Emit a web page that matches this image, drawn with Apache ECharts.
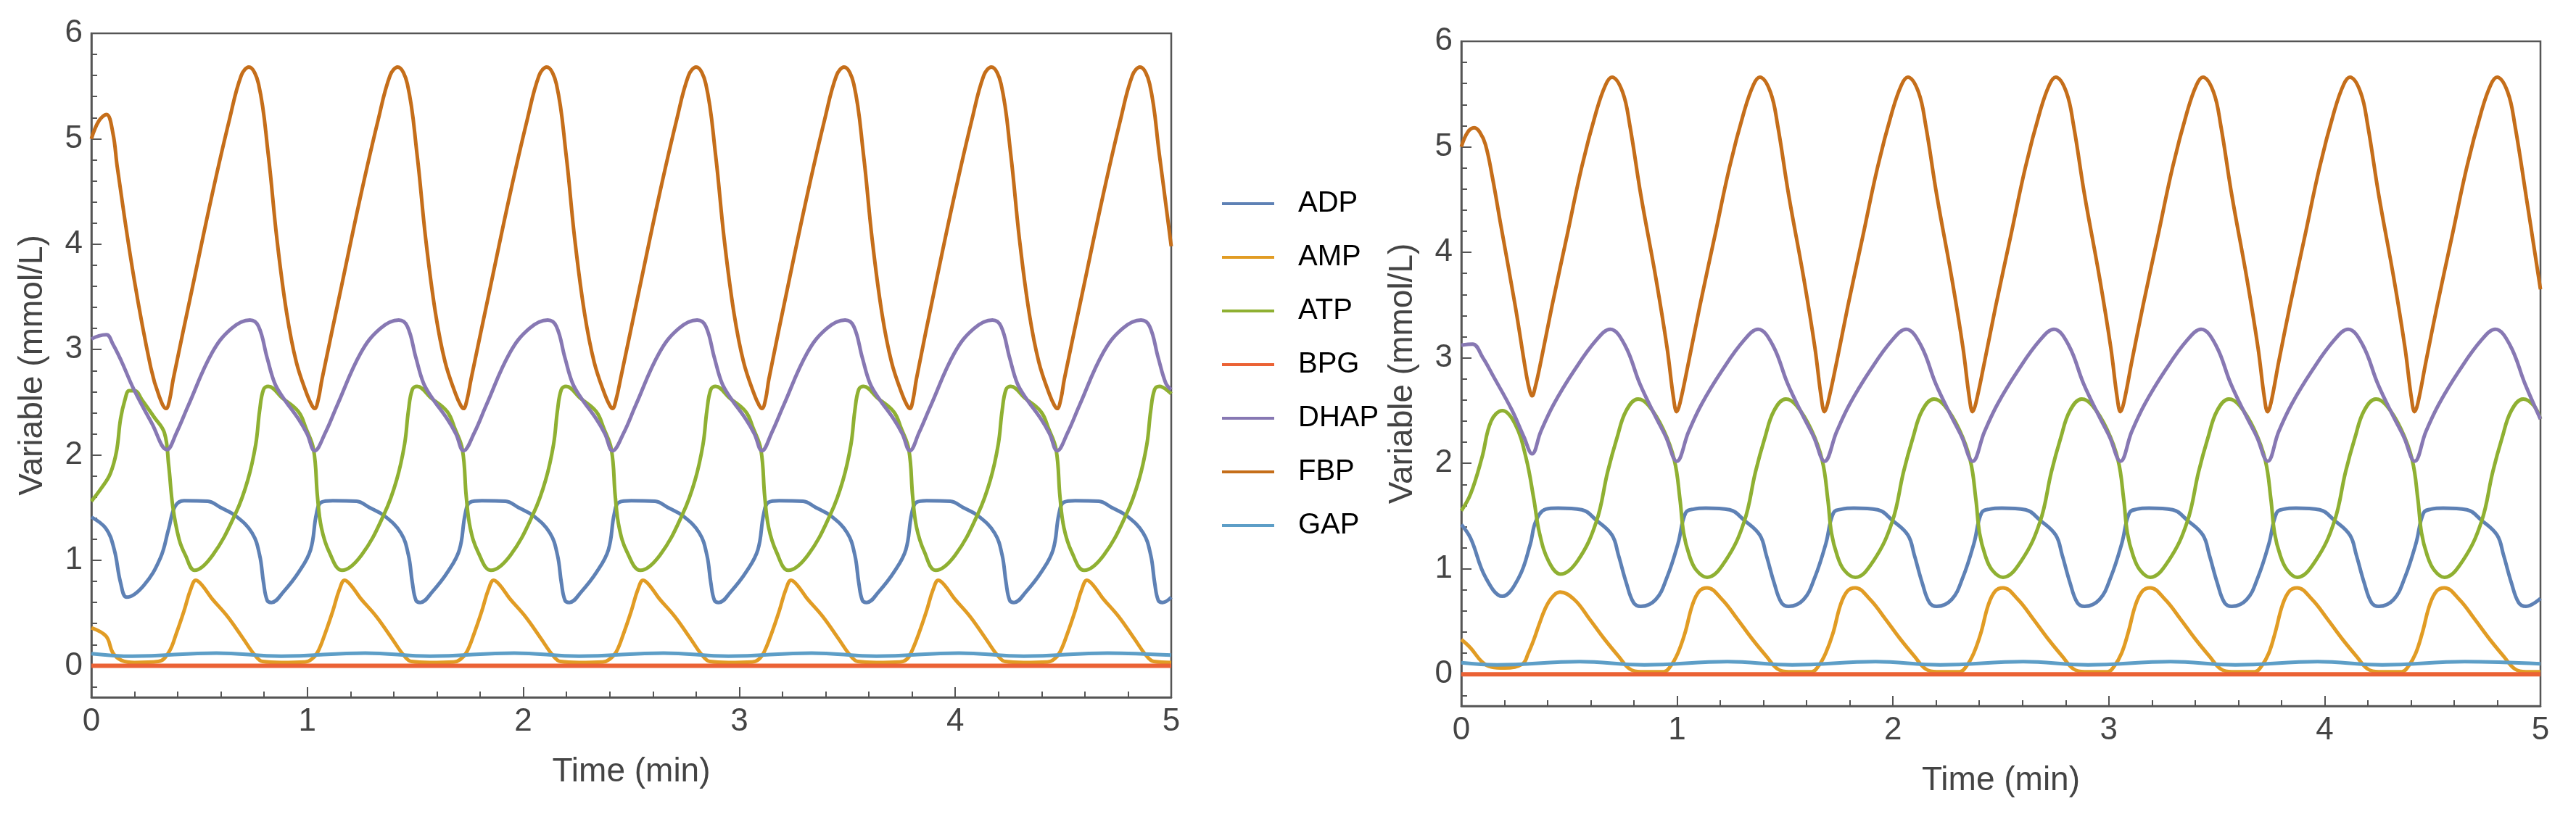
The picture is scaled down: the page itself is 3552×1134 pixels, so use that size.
<!DOCTYPE html>
<html>
<head>
<meta charset="utf-8">
<script src="https://cdn.jsdelivr.net/npm/echarts@6/dist/echarts.min.js"></script>
<style>
html,body{margin:0;padding:0;background:#fff;}
#chart{width:3552px;height:1134px;}
</style>
</head>
<body>
<div id="chart"></div>
<script>
// ---------- DATA ----------
const SERIES_NAMES = ['ADP','AMP','ATP','BPG','DHAP','FBP','GAP'];
const X_TICKS = [0,1,2,3,4,5];
const Y_TICKS = [0,1,2,3,4,5,6];
const Y_MINOR_TICKS = [-0.2,0.2,0.4,0.6,0.8,1.2,1.4,1.6,1.8,2.2,2.4,2.6,2.8,3.2,3.4,3.6,3.8,4.2,4.4,4.6,4.8,5.2,5.4,5.6,5.8];

// Left panel [time (min), value (mmol/L)]
const L_ADP = [[0,1.41],[0.068,1.3],[0.106,1.1],[0.135,0.79],[0.164,0.65],[0.242,0.76],[0.319,1.02],[0.358,1.3],[0.387,1.51],
[0.429,1.565],[0.539,1.56],[0.599,1.5],[0.669,1.42],[0.744,1.26],[0.779,1.05],[0.797,0.79],[0.814,0.62],[0.834,0.6],[0.889,0.7],[0.961,0.89],[1.015,1.1],[1.042,1.44],[1.064,1.55],
[1.118,1.565],[1.228,1.56],[1.288,1.5],[1.358,1.42],[1.433,1.26],[1.468,1.05],[1.486,0.79],[1.503,0.62],[1.523,0.6],[1.578,0.7],[1.650,0.89],[1.704,1.1],[1.731,1.44],[1.753,1.55],
[1.808,1.565],[1.918,1.56],[1.978,1.5],[2.048,1.42],[2.123,1.26],[2.158,1.05],[2.176,0.79],[2.193,0.62],[2.213,0.6],[2.268,0.7],[2.340,0.89],[2.394,1.1],[2.421,1.44],[2.443,1.55],
[2.500,1.565],[2.610,1.56],[2.670,1.5],[2.740,1.42],[2.815,1.26],[2.850,1.05],[2.868,0.79],[2.885,0.62],[2.905,0.6],[2.960,0.7],[3.032,0.89],[3.086,1.1],[3.113,1.44],[3.135,1.55],
[3.185,1.565],[3.295,1.56],[3.355,1.5],[3.425,1.42],[3.500,1.26],[3.535,1.05],[3.553,0.79],[3.570,0.62],[3.590,0.6],[3.645,0.7],[3.717,0.89],[3.771,1.1],[3.798,1.44],[3.820,1.55],
[3.867,1.565],[3.977,1.56],[4.037,1.5],[4.107,1.42],[4.182,1.26],[4.217,1.05],[4.235,0.79],[4.252,0.62],[4.272,0.6],[4.327,0.7],[4.399,0.89],[4.453,1.1],[4.480,1.44],[4.502,1.55],
[4.555,1.565],[4.665,1.56],[4.725,1.5],[4.795,1.42],[4.870,1.26],[4.905,1.05],[4.923,0.79],[4.940,0.62],[4.960,0.6],[5.0,0.65]];

const L_AMP = [[0,0.36],[0.068,0.28],[0.1,0.12],[0.14,0.05],[0.2,0.03],[0.31,0.04],
[0.359,0.13],[0.394,0.31],[0.429,0.52],[0.459,0.72],[0.484,0.81],[0.514,0.76],[0.557,0.64],[0.629,0.47],[0.702,0.26],[0.757,0.1],[0.793,0.04],[0.879,0.03],[0.989,0.035],[1.019,0.06],
[1.048,0.13],[1.083,0.31],[1.118,0.52],[1.148,0.72],[1.173,0.81],[1.203,0.76],[1.246,0.64],[1.318,0.47],[1.391,0.26],[1.446,0.1],[1.482,0.04],[1.568,0.03],[1.678,0.035],[1.708,0.06],
[1.738,0.13],[1.773,0.31],[1.808,0.52],[1.838,0.72],[1.863,0.81],[1.893,0.76],[1.936,0.64],[2.008,0.47],[2.081,0.26],[2.136,0.1],[2.172,0.04],[2.258,0.03],[2.368,0.035],[2.398,0.06],
[2.430,0.13],[2.465,0.31],[2.500,0.52],[2.530,0.72],[2.555,0.81],[2.585,0.76],[2.628,0.64],[2.700,0.47],[2.773,0.26],[2.828,0.1],[2.864,0.04],[2.950,0.03],[3.060,0.035],[3.090,0.06],
[3.115,0.13],[3.150,0.31],[3.185,0.52],[3.215,0.72],[3.240,0.81],[3.270,0.76],[3.313,0.64],[3.385,0.47],[3.458,0.26],[3.513,0.1],[3.549,0.04],[3.635,0.03],[3.745,0.035],[3.775,0.06],
[3.797,0.13],[3.832,0.31],[3.867,0.52],[3.897,0.72],[3.922,0.81],[3.952,0.76],[3.995,0.64],[4.067,0.47],[4.140,0.26],[4.195,0.1],[4.231,0.04],[4.317,0.03],[4.427,0.035],[4.457,0.06],
[4.485,0.13],[4.520,0.31],[4.555,0.52],[4.585,0.72],[4.610,0.81],[4.640,0.76],[4.683,0.64],[4.755,0.47],[4.828,0.26],[4.883,0.1],[4.919,0.04],[5.0,0.03]];

const L_ATP = [[0,1.56],[0.048,1.69],[0.087,1.82],[0.116,2.03],[0.135,2.34],[0.155,2.52],[0.175,2.61],[0.2,2.61],[0.235,2.52],[0.29,2.36],[0.338,2.21],[0.358,1.9],[0.377,1.51],[0.406,1.2],[0.435,1.05],
[0.478,0.905],[0.562,1.05],[0.669,1.45],[0.724,1.76],[0.761,2.1],[0.779,2.42],[0.797,2.62],[0.819,2.65],[0.884,2.54],[0.959,2.41],[0.994,2.25],[1.029,2.05],[1.047,1.6],[1.065,1.31],[1.101,1.08],
[1.160,0.905],[1.251,1.05],[1.358,1.45],[1.413,1.76],[1.450,2.1],[1.468,2.42],[1.486,2.62],[1.508,2.65],[1.573,2.54],[1.648,2.41],[1.683,2.25],[1.718,2.05],[1.736,1.6],[1.754,1.31],[1.790,1.08],
[1.850,0.905],[1.941,1.05],[2.048,1.45],[2.103,1.76],[2.140,2.1],[2.158,2.42],[2.176,2.62],[2.198,2.65],[2.263,2.54],[2.338,2.41],[2.373,2.25],[2.408,2.05],[2.426,1.6],[2.444,1.31],[2.480,1.08],
[2.542,0.905],[2.633,1.05],[2.740,1.45],[2.795,1.76],[2.832,2.1],[2.850,2.42],[2.868,2.62],[2.890,2.65],[2.955,2.54],[3.030,2.41],[3.065,2.25],[3.100,2.05],[3.118,1.6],[3.136,1.31],[3.172,1.08],
[3.227,0.905],[3.318,1.05],[3.425,1.45],[3.480,1.76],[3.517,2.1],[3.535,2.42],[3.553,2.62],[3.575,2.65],[3.640,2.54],[3.715,2.41],[3.750,2.25],[3.785,2.05],[3.803,1.6],[3.821,1.31],[3.857,1.08],
[3.909,0.905],[4.000,1.05],[4.107,1.45],[4.162,1.76],[4.199,2.1],[4.217,2.42],[4.235,2.62],[4.257,2.65],[4.322,2.54],[4.397,2.41],[4.432,2.25],[4.467,2.05],[4.485,1.6],[4.503,1.31],[4.539,1.08],
[4.597,0.905],[4.688,1.05],[4.795,1.45],[4.850,1.76],[4.887,2.1],[4.905,2.42],[4.923,2.62],[4.945,2.65],[5.0,2.58]];

const L_BPG = [[0,0],[1,0],[2,0],[3,0],[4,0],[5,0]];

const L_DHAP = [[0,3.1],[0.035,3.13],[0.07,3.14],[0.1,3.05],[0.139,2.89],[0.197,2.62],[0.28,2.3],[0.35,2.05],
[0.394,2.21],[0.449,2.47],[0.559,2.97],[0.649,3.2],[0.734,3.28],[0.774,3.22],[0.814,2.92],[0.849,2.68],[0.889,2.54],[0.959,2.34],[0.999,2.2],[1.034,2.04],
[1.083,2.21],[1.138,2.47],[1.248,2.97],[1.338,3.2],[1.423,3.28],[1.463,3.22],[1.503,2.92],[1.538,2.68],[1.578,2.54],[1.648,2.34],[1.688,2.2],[1.723,2.04],
[1.773,2.21],[1.828,2.47],[1.938,2.97],[2.028,3.2],[2.113,3.28],[2.153,3.22],[2.193,2.92],[2.228,2.68],[2.268,2.54],[2.338,2.34],[2.378,2.2],[2.413,2.04],
[2.465,2.21],[2.520,2.47],[2.630,2.97],[2.720,3.2],[2.805,3.28],[2.845,3.22],[2.885,2.92],[2.920,2.68],[2.960,2.54],[3.030,2.34],[3.070,2.2],[3.105,2.04],
[3.150,2.21],[3.205,2.47],[3.315,2.97],[3.405,3.2],[3.490,3.28],[3.530,3.22],[3.570,2.92],[3.605,2.68],[3.645,2.54],[3.715,2.34],[3.755,2.2],[3.790,2.04],
[3.832,2.21],[3.887,2.47],[3.997,2.97],[4.087,3.2],[4.172,3.28],[4.212,3.22],[4.252,2.92],[4.287,2.68],[4.327,2.54],[4.397,2.34],[4.437,2.2],[4.472,2.04],
[4.520,2.21],[4.575,2.47],[4.685,2.97],[4.775,3.2],[4.860,3.28],[4.900,3.22],[4.940,2.92],[4.975,2.68],[5.0,2.62]];

const L_FBP = [[0,5.0],[0.035,5.17],[0.07,5.23],[0.1,5.05],[0.12,4.73],[0.197,3.68],[0.275,2.83],[0.315,2.55],[0.346,2.44],[0.362,2.52],
[0.379,2.72],[0.469,3.6],[0.559,4.47],[0.639,5.18],[0.694,5.6],[0.729,5.68],[0.774,5.52],[0.819,4.85],[0.859,4.05],[0.904,3.35],[0.949,2.88],[0.999,2.57],[1.021,2.47],[1.034,2.44],[1.051,2.53],
[1.068,2.72],[1.158,3.6],[1.248,4.47],[1.328,5.18],[1.383,5.6],[1.418,5.68],[1.463,5.52],[1.508,4.85],[1.548,4.05],[1.593,3.35],[1.638,2.88],[1.688,2.57],[1.710,2.47],[1.723,2.44],[1.740,2.53],
[1.758,2.72],[1.848,3.6],[1.938,4.47],[2.018,5.18],[2.073,5.6],[2.108,5.68],[2.153,5.52],[2.198,4.85],[2.238,4.05],[2.283,3.35],[2.328,2.88],[2.378,2.57],[2.400,2.47],[2.413,2.44],[2.430,2.53],
[2.450,2.72],[2.540,3.6],[2.630,4.47],[2.710,5.18],[2.765,5.6],[2.800,5.68],[2.845,5.52],[2.890,4.85],[2.930,4.05],[2.975,3.35],[3.020,2.88],[3.070,2.57],[3.092,2.47],[3.105,2.44],[3.122,2.53],
[3.137,2.72],[3.225,3.6],[3.315,4.47],[3.395,5.18],[3.450,5.6],[3.485,5.68],[3.530,5.52],[3.575,4.85],[3.615,4.05],[3.660,3.35],[3.705,2.88],[3.755,2.57],[3.777,2.47],[3.790,2.44],[3.805,2.53],
[3.820,2.72],[3.907,3.6],[3.997,4.47],[4.077,5.18],[4.132,5.6],[4.167,5.68],[4.212,5.52],[4.257,4.85],[4.297,4.05],[4.342,3.35],[4.387,2.88],[4.437,2.57],[4.459,2.47],[4.472,2.44],[4.489,2.53],
[4.505,2.72],[4.595,3.6],[4.685,4.47],[4.765,5.18],[4.820,5.6],[4.855,5.68],[4.900,5.52],[4.945,4.85],[5.0,3.98]];

const L_GAP = [[0,0.115],[0.19,0.09],[0.579,0.12],[0.879,0.09],[1.268,0.12],[1.568,0.09],[1.958,0.12],[2.258,0.09],[2.65,0.12],[2.95,0.09],[3.335,0.12],[3.635,0.09],[4.017,0.12],[4.317,0.09],[4.705,0.12],[5.0,0.1]];

// Right panel
const R_ADP = [[0,1.42],[0.043,1.29],[0.112,0.92],[0.19,0.74],[0.267,0.92],[0.319,1.23],[0.345,1.45],
[0.392,1.566],[0.448,1.575],[0.558,1.56],[0.626,1.46],[0.698,1.32],[0.728,1.13],[0.764,0.87],[0.798,0.68],[0.832,0.645],[0.901,0.71],[0.953,0.92],[1.004,1.24],[1.039,1.53],
[1.077,1.566],[1.133,1.575],[1.243,1.56],[1.311,1.46],[1.383,1.32],[1.413,1.13],[1.449,0.87],[1.483,0.68],[1.517,0.645],[1.586,0.71],[1.638,0.92],[1.689,1.24],[1.724,1.53],
[1.763,1.566],[1.819,1.575],[1.929,1.56],[1.997,1.46],[2.069,1.32],[2.099,1.13],[2.135,0.87],[2.169,0.68],[2.203,0.645],[2.272,0.71],[2.324,0.92],[2.375,1.24],[2.410,1.53],
[2.448,1.566],[2.504,1.575],[2.614,1.56],[2.682,1.46],[2.754,1.32],[2.784,1.13],[2.820,0.87],[2.854,0.68],[2.888,0.645],[2.957,0.71],[3.009,0.92],[3.060,1.24],[3.095,1.53],
[3.130,1.566],[3.186,1.575],[3.296,1.56],[3.364,1.46],[3.436,1.32],[3.466,1.13],[3.502,0.87],[3.536,0.68],[3.570,0.645],[3.639,0.71],[3.691,0.92],[3.742,1.24],[3.777,1.53],
[3.811,1.566],[3.867,1.575],[3.977,1.56],[4.045,1.46],[4.117,1.32],[4.147,1.13],[4.183,0.87],[4.217,0.68],[4.251,0.645],[4.320,0.71],[4.372,0.92],[4.423,1.24],[4.458,1.53],
[4.493,1.566],[4.549,1.575],[4.659,1.56],[4.727,1.46],[4.799,1.32],[4.829,1.13],[4.865,0.87],[4.899,0.68],[4.933,0.645],[5.0,0.72]];

const R_AMP = [[0,0.33],[0.043,0.25],[0.095,0.12],[0.138,0.07],[0.2,0.06],[0.284,0.1],[0.31,0.2],[0.336,0.33],[0.36,0.47],[0.388,0.62],[0.42,0.73],[0.457,0.78],
[0.523,0.71],[0.592,0.53],[0.661,0.34],[0.729,0.17],[0.781,0.05],[0.832,0.025],[0.938,0.025],[0.970,0.08],[1.003,0.2],
[1.036,0.39],[1.071,0.66],[1.103,0.79],[1.139,0.82],[1.208,0.71],[1.277,0.53],[1.346,0.34],[1.414,0.17],[1.466,0.05],[1.517,0.025],[1.623,0.025],[1.655,0.08],[1.688,0.2],
[1.722,0.39],[1.757,0.66],[1.789,0.79],[1.825,0.82],[1.894,0.71],[1.963,0.53],[2.032,0.34],[2.100,0.17],[2.152,0.05],[2.203,0.025],[2.309,0.025],[2.341,0.08],[2.374,0.2],
[2.407,0.39],[2.442,0.66],[2.474,0.79],[2.510,0.82],[2.579,0.71],[2.648,0.53],[2.717,0.34],[2.785,0.17],[2.837,0.05],[2.888,0.025],[2.994,0.025],[3.026,0.08],[3.059,0.2],
[3.089,0.39],[3.124,0.66],[3.156,0.79],[3.192,0.82],[3.261,0.71],[3.330,0.53],[3.399,0.34],[3.467,0.17],[3.519,0.05],[3.570,0.025],[3.676,0.025],[3.708,0.08],[3.741,0.2],
[3.770,0.39],[3.805,0.66],[3.837,0.79],[3.873,0.82],[3.942,0.71],[4.011,0.53],[4.080,0.34],[4.148,0.17],[4.200,0.05],[4.251,0.025],[4.357,0.025],[4.389,0.08],[4.422,0.2],
[4.452,0.39],[4.487,0.66],[4.519,0.79],[4.555,0.82],[4.624,0.71],[4.693,0.53],[4.762,0.34],[4.830,0.17],[4.882,0.05],[4.933,0.025],[5.0,0.025]];

const R_ATP = [[0,1.55],[0.043,1.71],[0.095,2.05],[0.138,2.4],[0.19,2.5],[0.25,2.37],[0.3,2.05],[0.336,1.66],[0.362,1.34],[0.405,1.07],
[0.46,0.95],[0.540,1.08],[0.626,1.45],[0.678,1.92],[0.721,2.24],[0.764,2.5],[0.819,2.61],[0.867,2.55],[0.936,2.32],[0.987,2.03],[1.013,1.66],[1.030,1.34],[1.056,1.13],[1.088,0.99],
[1.139,0.92],[1.225,1.08],[1.311,1.45],[1.363,1.92],[1.406,2.24],[1.449,2.5],[1.504,2.61],[1.552,2.55],[1.621,2.32],[1.672,2.03],[1.698,1.66],[1.715,1.34],[1.741,1.13],[1.773,0.99],
[1.825,0.92],[1.911,1.08],[1.997,1.45],[2.049,1.92],[2.092,2.24],[2.135,2.5],[2.190,2.61],[2.238,2.55],[2.307,2.32],[2.358,2.03],[2.384,1.66],[2.401,1.34],[2.427,1.13],[2.459,0.99],
[2.510,0.92],[2.596,1.08],[2.682,1.45],[2.734,1.92],[2.777,2.24],[2.820,2.5],[2.875,2.61],[2.923,2.55],[2.992,2.32],[3.043,2.03],[3.069,1.66],[3.086,1.34],[3.112,1.13],[3.144,0.99],
[3.192,0.92],[3.278,1.08],[3.364,1.45],[3.416,1.92],[3.459,2.24],[3.502,2.5],[3.557,2.61],[3.605,2.55],[3.674,2.32],[3.725,2.03],[3.751,1.66],[3.768,1.34],[3.794,1.13],[3.826,0.99],
[3.873,0.92],[3.959,1.08],[4.045,1.45],[4.097,1.92],[4.140,2.24],[4.183,2.5],[4.238,2.61],[4.286,2.55],[4.355,2.32],[4.406,2.03],[4.432,1.66],[4.449,1.34],[4.475,1.13],[4.507,0.99],
[4.555,0.92],[4.641,1.08],[4.727,1.45],[4.779,1.92],[4.822,2.24],[4.865,2.5],[4.920,2.61],[4.968,2.55],[5.0,2.42]];

const R_BPG = [[0,0],[1,0],[2,0],[3,0],[4,0],[5,0]];

const R_DHAP = [[0,3.12],[0.052,3.13],[0.1,3.0],[0.147,2.83],[0.233,2.51],[0.29,2.25],[0.328,2.09],
[0.368,2.3],[0.428,2.56],[0.523,2.88],[0.626,3.17],[0.690,3.27],[0.758,3.12],[0.828,2.75],[0.898,2.45],[0.948,2.25],[0.998,2.02],
[1.053,2.3],[1.113,2.56],[1.208,2.88],[1.311,3.17],[1.375,3.27],[1.443,3.12],[1.513,2.75],[1.583,2.45],[1.633,2.25],[1.683,2.02],
[1.739,2.3],[1.799,2.56],[1.894,2.88],[1.997,3.17],[2.061,3.27],[2.129,3.12],[2.199,2.75],[2.269,2.45],[2.319,2.25],[2.369,2.02],
[2.424,2.3],[2.484,2.56],[2.579,2.88],[2.682,3.17],[2.746,3.27],[2.814,3.12],[2.884,2.75],[2.954,2.45],[3.004,2.25],[3.054,2.02],
[3.106,2.3],[3.166,2.56],[3.261,2.88],[3.364,3.17],[3.428,3.27],[3.496,3.12],[3.566,2.75],[3.636,2.45],[3.686,2.25],[3.736,2.02],
[3.787,2.3],[3.847,2.56],[3.942,2.88],[4.045,3.17],[4.109,3.27],[4.177,3.12],[4.247,2.75],[4.317,2.45],[4.367,2.25],[4.417,2.02],
[4.469,2.3],[4.529,2.56],[4.624,2.88],[4.727,3.17],[4.791,3.27],[4.859,3.12],[4.929,2.75],[5.0,2.42]];

const R_FBP = [[0,5.0],[0.03,5.14],[0.06,5.18],[0.085,5.14],[0.112,5.02],[0.145,4.7],[0.181,4.28],[0.25,3.49],[0.302,2.83],[0.318,2.68],[0.328,2.64],[0.342,2.72],
[0.369,2.97],[0.420,3.49],[0.489,4.15],[0.558,4.81],[0.626,5.34],[0.669,5.59],[0.698,5.66],[0.747,5.52],[0.781,5.2],[0.832,4.54],[0.901,3.76],[0.953,3.1],[0.983,2.62],[0.998,2.49],[1.013,2.57],
[1.054,2.97],[1.105,3.49],[1.174,4.15],[1.243,4.81],[1.311,5.34],[1.354,5.59],[1.383,5.66],[1.432,5.52],[1.466,5.2],[1.517,4.54],[1.586,3.76],[1.638,3.1],[1.668,2.62],[1.683,2.49],[1.698,2.57],
[1.740,2.97],[1.791,3.49],[1.860,4.15],[1.929,4.81],[1.997,5.34],[2.040,5.59],[2.069,5.66],[2.118,5.52],[2.152,5.2],[2.203,4.54],[2.272,3.76],[2.324,3.1],[2.354,2.62],[2.369,2.49],[2.384,2.57],
[2.425,2.97],[2.476,3.49],[2.545,4.15],[2.614,4.81],[2.682,5.34],[2.725,5.59],[2.754,5.66],[2.803,5.52],[2.837,5.2],[2.888,4.54],[2.957,3.76],[3.009,3.1],[3.039,2.62],[3.054,2.49],[3.069,2.57],
[3.107,2.97],[3.158,3.49],[3.227,4.15],[3.296,4.81],[3.364,5.34],[3.407,5.59],[3.436,5.66],[3.485,5.52],[3.519,5.2],[3.570,4.54],[3.639,3.76],[3.691,3.1],[3.721,2.62],[3.736,2.49],[3.751,2.57],
[3.788,2.97],[3.839,3.49],[3.908,4.15],[3.977,4.81],[4.045,5.34],[4.088,5.59],[4.117,5.66],[4.166,5.52],[4.200,5.2],[4.251,4.54],[4.320,3.76],[4.372,3.1],[4.402,2.62],[4.417,2.49],[4.432,2.57],
[4.470,2.97],[4.521,3.49],[4.590,4.15],[4.659,4.81],[4.727,5.34],[4.770,5.59],[4.799,5.66],[4.848,5.52],[4.882,5.2],[4.933,4.54],[5.0,3.65]];

const R_GAP = [[0,0.11],[0.165,0.09],[0.548,0.12],[0.848,0.09],[1.233,0.12],[1.533,0.09],[1.919,0.12],[2.219,0.09],[2.604,0.12],[2.904,0.09],[3.286,0.12],[3.586,0.09],[3.967,0.12],[4.267,0.09],[4.649,0.12],[5.0,0.1]];

const LEFT_DATA = [L_ADP, L_AMP, L_ATP, L_BPG, L_DHAP, L_FBP, L_GAP];
const RIGHT_DATA = [R_ADP, R_AMP, R_ATP, R_BPG, R_DHAP, R_FBP, R_GAP];

// ---------- STYLE ----------
const COLORS = ['#5E81B5','#E19C24','#8FB032','#EB6235','#8778B3','#C56E1A','#5D9EC7'];
const WIDTHS = [5,5,5,6,5,5,5];
const FONT = '"Liberation Sans", Arial, Helvetica, sans-serif';
const AX = '#555555';
const LBL = '#444444';

function xAxis(gridIndex){
  return {
    type:'value', gridIndex, min:0, max:5, interval:1,
    name:'Time (min)', nameLocation:'middle', nameGap:80,
    nameTextStyle:{fontSize:46, color:LBL, fontFamily:FONT},
    axisLine:{show:true, onZero:false, lineStyle:{color:AX, width:2.5}},
    axisTick:{show:true, inside:true, length:14, lineStyle:{color:AX, width:2}},
    minorTick:{show:true, splitNumber:5, length:8, lineStyle:{color:AX, width:2}},
    axisLabel:{show:true, margin:12, fontSize:44, color:LBL, fontFamily:FONT, customValues:X_TICKS},
    splitLine:{show:false}, minorSplitLine:{show:false}
  };
}
function yMain(gridIndex, gap){
  return {
    type:'value', gridIndex, min:-0.3, max:6,
    name:'Variable (mmol/L)', nameLocation:'middle', nameGap:gap, nameRotate:90,
    nameTextStyle:{fontSize:46, color:LBL, fontFamily:FONT},
    axisLine:{show:true, onZero:false, lineStyle:{color:AX, width:2.5}},
    axisTick:{show:true, inside:true, length:14, customValues:Y_TICKS, lineStyle:{color:AX, width:2}},
    axisLabel:{show:true, margin:12, fontSize:44, color:LBL, fontFamily:FONT, customValues:Y_TICKS},
    splitLine:{show:false}
  };
}
function yMinor(gridIndex){
  return {
    type:'value', gridIndex, min:-0.3, max:6, position:'left',
    axisLine:{show:false},
    axisTick:{show:true, inside:true, length:8, customValues:Y_MINOR_TICKS, lineStyle:{color:AX, width:2}},
    axisLabel:{show:false},
    splitLine:{show:false}
  };
}

const series = [];
SERIES_NAMES.forEach((name,i)=>{
  series.push({type:'line', name, xAxisIndex:0, yAxisIndex:0, data:LEFT_DATA[i],
    showSymbol:false, symbol:'none', smooth:0.4,
    lineStyle:{width:WIDTHS[i], color:COLORS[i]}, itemStyle:{color:COLORS[i]}, emphasis:{disabled:true}, z:2+i});
});
SERIES_NAMES.forEach((name,i)=>{
  series.push({type:'line', name, xAxisIndex:1, yAxisIndex:2, data:RIGHT_DATA[i],
    showSymbol:false, symbol:'none', smooth:0.4,
    lineStyle:{width:WIDTHS[i], color:COLORS[i]}, itemStyle:{color:COLORS[i]}, emphasis:{disabled:true}, z:2+i});
});

const chart = echarts.init(document.getElementById('chart'), null, {renderer:'canvas'});
chart.setOption({
  animation:false,
  backgroundColor:'#ffffff',
  grid:[
    {left:126, top:46, width:1489, height:916, show:true, borderColor:AX, borderWidth:2.5, backgroundColor:'transparent', containLabel:false},
    {left:2015, top:57, width:1488, height:917, show:true, borderColor:AX, borderWidth:2.5, backgroundColor:'transparent', containLabel:false}
  ],
  xAxis:[xAxis(0), xAxis(1)],
  yAxis:[yMain(0,58), yMinor(0), yMain(1,58), yMinor(1)],
  legend:{
    orient:'vertical', left:1680, top:254, icon:'rect', itemWidth:72, itemHeight:4,
    itemGap:30, data:SERIES_NAMES, selectedMode:false,
    formatter: name => '{n|' + name + '}',
    textStyle:{fontSize:40, color:'#000', fontFamily:FONT, lineHeight:44,
      rich:{n:{fontSize:40, color:'#000', fontFamily:FONT, lineHeight:44, padding:[0,0,0,28]}}}
  },
  series
});
</script>
</body>
</html>
